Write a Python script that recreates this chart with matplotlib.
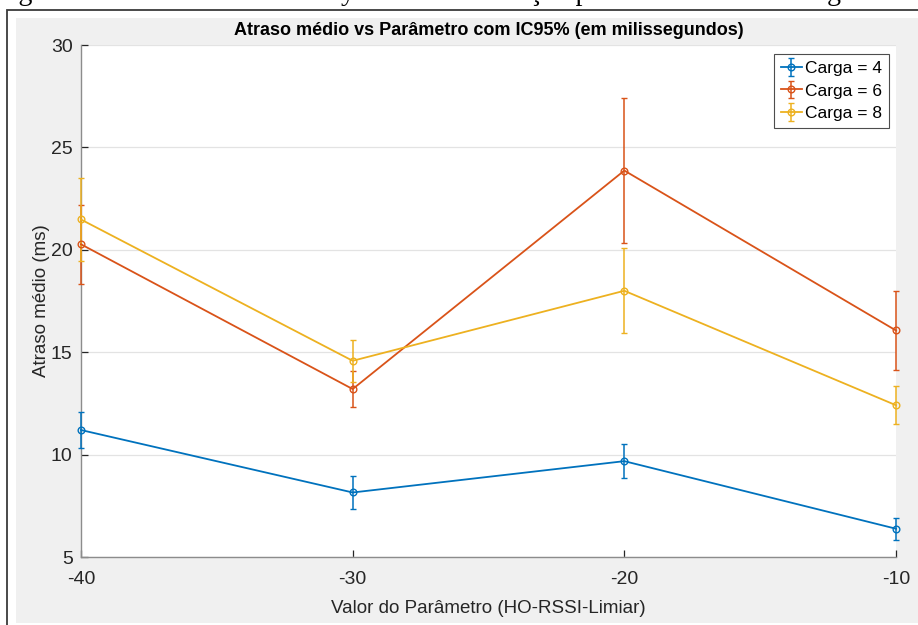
import matplotlib
matplotlib.use("Agg")
import matplotlib.pyplot as plt
from matplotlib.patches import Rectangle

# parameter values on the x axis
parametro = [-40, -30, -20, -10]

# mean delay (ms) and 95% CI half-widths for each load
atraso_c4 = [11.2, 8.15, 9.68, 6.38]
ic_c4 = [0.88, 0.80, 0.83, 0.54]
atraso_c6 = [20.27, 13.2, 23.87, 16.06]
ic_c6 = [1.93, 0.86, 3.55, 1.94]
atraso_c8 = [21.48, 14.58, 18.0, 12.41]
ic_c8 = [2.05, 1.03, 2.08, 0.94]

cargas = ["Carga = 4", "Carga = 6", "Carga = 8"]
cores = ["#0072BD", "#D95319", "#EDB120"]

legenda_fig = "Figura 4 – Atraso médio e delay na rede em função para cada valor de Carga"

W, H = 918, 625
plt.rcParams["font.family"] = ["Liberation Sans", "DejaVu Sans"]
plt.rcParams["axes.unicode_minus"] = False
plt.rcParams["savefig.bbox"] = "standard"
cor_texto = "#262626"

fig = plt.figure(figsize=(W / 100, H / 100), dpi=100)
fig.patch.set_facecolor("white")

# caption of the page above the figure, mostly cut off
fig.text(-5 / W, 1.0, legenda_fig, family="Liberation Serif",
         fontsize=20.2, va="baseline", ha="left", color="black")

# frame and gray figure panel
fig.patches.append(Rectangle((7 / W, -0.1), 1.2, (H - 10) / H + 0.1,
                             transform=fig.transFigure, fill=False,
                             edgecolor="#3a3a3a", linewidth=1.3, zorder=-2))
fig.patches.append(Rectangle((16 / W, 2 / H), 1.0, (H - 18 - 2) / H,
                             transform=fig.transFigure, facecolor="#F0F0F0",
                             edgecolor="none", zorder=-1))

ax_l, ax_r, ax_t, ax_b = 81, 896, 45, 557
ax = fig.add_axes([ax_l / W, (H - ax_b) / H, (ax_r - ax_l) / W, (ax_b - ax_t) / H])
ax.set_facecolor("white")

series = [(atraso_c4, ic_c4), (atraso_c6, ic_c6), (atraso_c8, ic_c8)]
for (y, e), nome, cor in zip(series, cargas, cores):
    ax.errorbar(parametro, y, yerr=e, color=cor, linewidth=1.3,
                marker="o", markersize=4.8, markerfacecolor="none",
                markeredgewidth=1.0, capsize=2.4, capthick=1.1,
                elinewidth=1.1, label=nome, clip_on=False, zorder=3)

ax.set_xlim(-40, -10)
ax.set_ylim(5, 30)
ax.set_xticks(parametro)
ax.set_yticks([5, 10, 15, 20, 25, 30])

ax.grid(axis="y", color="#E3E3E3", linewidth=0.9)
ax.set_axisbelow(True)

for lado in ["top", "right"]:
    ax.spines[lado].set_visible(False)
for lado in ["left", "bottom"]:
    ax.spines[lado].set_color("#8c8c8c")
    ax.spines[lado].set_linewidth(1.0)

ax.tick_params(direction="in", length=5, width=0.9, color=cor_texto,
               labelsize=14, labelcolor=cor_texto)
ax.tick_params(axis="x", pad=10)
ax.tick_params(axis="y", pad=6)

ax.set_title("Atraso médio vs Parâmetro com IC95% (em milissegundos)",
             fontsize=13, fontweight="bold", color="black", pad=7)
ax.set_xlabel("Valor do Parâmetro (HO-RSSI-Limiar)", fontsize=13.5,
              color=cor_texto, labelpad=9)
ax.set_ylabel("Atraso médio (ms)", fontsize=13.5, color=cor_texto, labelpad=1)

leg = ax.legend(loc="upper right", bbox_to_anchor=(1 - 7 / 815, 1 - 9 / 512),
                borderaxespad=0, fontsize=12.5, fancybox=False, framealpha=1,
                edgecolor="#4d4d4d", handlelength=1.2, handletextpad=0.2,
                borderpad=0.4, labelspacing=0.42)
leg.get_frame().set_linewidth(0.8)

fig.savefig("out.png", dpi=100, facecolor=fig.get_facecolor(),
            bbox_inches=fig.bbox_inches)
